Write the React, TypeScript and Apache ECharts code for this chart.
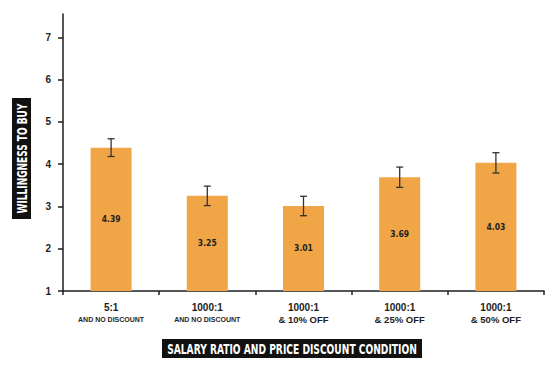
import React, { useEffect, useRef } from "react";
import * as echarts from "echarts";

const line1 = ["5:1", "1000:1", "1000:1", "1000:1", "1000:1"];
const line2 = ["AND NO DISCOUNT", "AND NO DISCOUNT", "& 10% OFF", "& 25% OFF", "& 50% OFF"];
const means = [4.39, 3.25, 3.01, 3.69, 4.03];
const errors = [0.21, 0.23, 0.23, 0.24, 0.24];
const yTicks = [1, 2, 3, 4, 5, 6, 7];
const yTitle = "WILLINGNESS TO BUY";
const xTitle = "SALARY RATIO AND PRICE DISCOUNT CONDITION";

const ORANGE = "#F0A647";
const DARK = "#1e1e1e";
const NARROW = "'Liberation Sans Narrow', 'DejaVu Sans Condensed', 'Liberation Sans', sans-serif";
const SANS = "'Liberation Sans', Arial, sans-serif";
const TITLE_FONT = `bold 14.5px ${NARROW}`;

function measure(text: string, font: string): number {
  const c = document.createElement("canvas");
  const ctx = c.getContext("2d");
  if (!ctx) return text.length * 8;
  ctx.font = font;
  return ctx.measureText(text).width;
}

export default function App() {
  const ref = useRef<HTMLDivElement>(null);
  useEffect(() => {
    if (!ref.current) return;
    const chart = echarts.init(ref.current, null, { renderer: "svg" });
    const categories = line1.map((a, i) => a + "\n" + line2[i]);
    const xScale = 250 / measure(xTitle, TITLE_FONT);
    const yScale = 110 / measure(yTitle, TITLE_FONT);
    chart.setOption({
      animation: false,
      backgroundColor: "#ffffff",
      grid: { left: 63, right: 16, top: 14, bottom: 83 },
      xAxis: {
        type: "category",
        data: categories,
        axisLine: { lineStyle: { color: DARK, width: 1.5 } },
        axisTick: { show: true, length: 4, lineStyle: { color: DARK, width: 1.5 } },
        axisLabel: {
          interval: 0,
          margin: 10,
          formatter: (v: string) => {
            const parts = v.split("\n");
            const small = parts[1].startsWith("AND");
            return `{a|${parts[0]}}\n{${small ? "s" : "b"}|${parts[1]}}`;
          },
          rich: {
            a: { fontFamily: SANS, fontWeight: "bold", fontSize: 10, color: DARK, lineHeight: 12 },
            b: { fontFamily: SANS, fontWeight: "bold", fontSize: 9.5, color: DARK, lineHeight: 12 },
            s: { fontFamily: SANS, fontWeight: "bold", fontSize: 7, color: DARK, lineHeight: 12 },
          },
        },
        splitLine: { show: false },
      },
      yAxis: {
        type: "value",
        min: 1,
        max: 7.55,
        interval: 1,
        axisLine: { show: true, lineStyle: { color: DARK, width: 1.5 } },
        axisTick: { show: true, length: 5, lineStyle: { color: DARK, width: 1.5 }, customValues: yTicks },
        axisLabel: {
          customValues: yTicks,
          margin: 12,
          fontFamily: SANS,
          fontWeight: "bold",
          fontSize: 10,
          color: DARK,
        },
        splitLine: { show: false },
      },
      series: [
        {
          type: "bar",
          data: means,
          barWidth: 41,
          itemStyle: { color: ORANGE },
          label: {
            show: true,
            position: "inside",
            fontFamily: NARROW,
            fontWeight: "bold",
            fontSize: 8.5,
            color: DARK,
            formatter: (p: any) => p.value.toFixed(2),
          },
          z: 2,
        },
        {
          type: "custom",
          data: means.map((m, i) => [i, m, errors[i]]),
          encode: { x: 0, y: 1 },
          z: 3,
          renderItem: (params: any, api: any) => {
            const x = api.value(0);
            const m = api.value(1);
            const e = api.value(2);
            const top = api.coord([x, m + e]);
            const bot = api.coord([x, m - e]);
            const hw = 3.5;
            const style = { stroke: "#333333", lineWidth: 1.3 };
            return {
              type: "group",
              children: [
                { type: "line", shape: { x1: top[0], y1: top[1], x2: bot[0], y2: bot[1] }, style },
                { type: "line", shape: { x1: top[0] - hw, y1: top[1], x2: top[0] + hw, y2: top[1] }, style },
                { type: "line", shape: { x1: bot[0] - hw, y1: bot[1], x2: bot[0] + hw, y2: bot[1] }, style },
              ],
            };
          },
        },
      ],
      graphic: [
        { type: "rect", left: 12, top: 98, shape: { width: 19, height: 121 }, style: { fill: "#111111" } },
        {
          type: "text",
          x: 21.5,
          y: 158.5,
          rotation: Math.PI / 2,
          scaleX: yScale,
          style: {
            text: yTitle,
            fill: "#ffffff",
            font: TITLE_FONT,
            align: "center",
            verticalAlign: "middle",
          },
        },
        { type: "rect", left: 162, top: 339, shape: { width: 260, height: 19 }, style: { fill: "#111111" } },
        {
          type: "text",
          x: 292,
          y: 349,
          scaleX: xScale,
          style: {
            text: xTitle,
            fill: "#ffffff",
            font: TITLE_FONT,
            align: "center",
            verticalAlign: "middle",
          },
        },
      ],
    });
    return () => chart.dispose();
  }, []);
  return <div ref={ref} style={{ width: 560, height: 374, position: "absolute", left: 0, top: 0 }} />;
}
